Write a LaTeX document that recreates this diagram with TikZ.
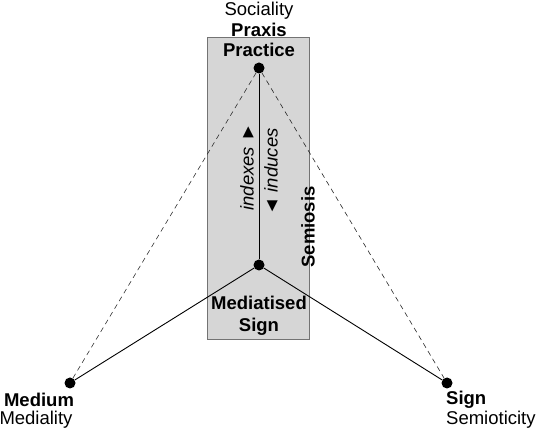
\documentclass[tikz,border=0pt]{standalone}
\usepackage{fontspec}
\setmainfont{Liberation Sans}
\begin{document}
\begin{tikzpicture}[x=1pt,y=-1pt,
  lbl/.style={inner sep=0pt,font=\fontsize{18.5}{21}\selectfont},
  blbl/.style={lbl,font=\fontsize{18.5}{21}\selectfont\bfseries},
  dot/.style={circle,fill=black,inner sep=0pt,minimum size=11pt},
  solidline/.style={line width=0.9pt},
  dashline/.style={line width=0.6pt,dash pattern=on 5pt off 4pt,draw=black!85}]
\useasboundingbox (0,0) rectangle (536,430);
\node[draw=black!55,fill=black!16,line width=1pt,minimum width=102pt,minimum height=302pt,inner sep=0pt] (box) at (258,189) {};
\node[dot] (prac) at (259,68) {};
\node[dot] (med) at (259,265) {};
\node[dot] (medium) at (70,383) {};
\node[dot] (sign) at (447,383) {};
\draw[dashline] (prac) -- (medium);
\draw[dashline] (prac) -- (sign);
\draw[solidline] (prac) -- (med);
\draw[solidline] (med) -- (medium);
\draw[solidline] (med) -- (sign);
\node[lbl] (soc) at (259,11) {Sociality};
\node[blbl] (praxis) at (259,30) {Praxis};
\node[blbl] (practice) at (259,50) {Practice};
\node[blbl] (mediatised) at (259,303) {Mediatised};
\node[blbl] (msign) at (259,327) {Sign};
\node[blbl] (mediumt) at (39,400) {Medium};
\node[lbl] (medialityt) at (36,420) {Mediality};
\node[blbl,anchor=west] (signt) at (446,400) {Sign};
\node[lbl,anchor=west] (semt) at (446,420) {Semioticity};
\node[lbl,rotate=90,font=\fontsize{18.5}{21}\selectfont\itshape] (idx) at (247,167) {indexes ►};
\node[lbl,rotate=90,font=\fontsize{18.5}{21}\selectfont\itshape] (ind) at (271,172) {◄ induces};
\node[blbl,rotate=90] (semiosis) at (308,227) {Semiosis};
\end{tikzpicture}
\end{document}
